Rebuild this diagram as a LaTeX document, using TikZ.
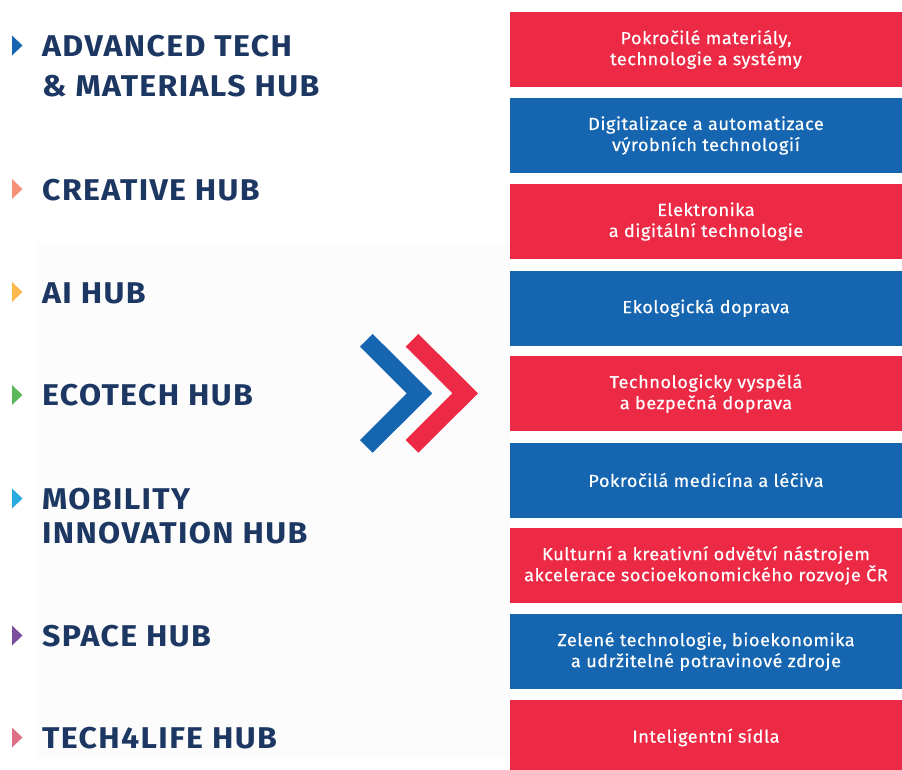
\documentclass[tikz,border=0pt]{standalone}
\usepackage{fontspec}
\setmainfont{Fira Sans}
\newfontfamily\hubfont{Fira Sans}[FakeStretch=1.07, LetterSpace=4.5]
\newfontfamily\topicfont{Fira Sans}[FakeStretch=1.04, LetterSpace=2.8, FakeBold=0.4]
\usetikzlibrary{positioning}
\definecolor{navy}{HTML}{1D3763}
\definecolor{boxred}{HTML}{EC2A45}
\definecolor{boxblue}{HTML}{1565B0}
\definecolor{faint}{HTML}{FCFCFD}
\definecolor{tblue}{HTML}{1565B0}
\definecolor{tsalmon}{HTML}{F4937A}
\definecolor{torange}{HTML}{FDB94E}
\definecolor{tgreen}{HTML}{5CB85C}
\definecolor{tcyan}{HTML}{29ABE2}
\definecolor{tpurple}{HTML}{7B4F9E}
\definecolor{tpink}{HTML}{E07088}
\tikzset{
  hub/.style={anchor=base west, inner sep=0pt, text=navy, font=\hubfont\fontsize{30}{40}\selectfont\bfseries},
  topic/.style={minimum width=392pt, minimum height=75pt, inner sep=0pt, text=white, align=center,
     font=\topicfont\fontsize{17.5}{21}\selectfont},
  redbox/.style={topic, fill=boxred},
  bluebox/.style={topic, fill=boxblue},
}
\newcommand{\hubtri}[2]{\fill[#1] (12,#2-10) -- (22.5,#2) -- (12,#2+10) -- cycle;}
\begin{document}
\begin{tikzpicture}[x=1pt,y=-1pt]
\useasboundingbox (0,0) rectangle (902,769);
\fill[white] (0,0) rectangle (902,769);
\fill[faint] (37,243) rectangle (510,758);
% hubs
\hubtri{tblue}{45.5}
\node[hub] (adv) at (42,56) {\vtop{\hbox{ADVANCED TECH}\hbox{\& MATERIALS HUB}}};
\hubtri{tsalmon}{189}
\node[hub] (cre) at (42,200) {CREATIVE HUB};
\hubtri{torange}{292}
\node[hub] (ai) at (42,303) {AI HUB};
\hubtri{tgreen}{395}
\node[hub] (eco) at (42,405.5) {ECOTECH HUB};
\hubtri{tcyan}{498.5}
\node[hub, font=\hubfont\fontsize{30}{34}\selectfont\bfseries] (mob) at (42,509) {\vtop{\hbox{MOBILITY}\hbox{INNOVATION HUB}}};
\hubtri{tpurple}{635.5}
\node[hub] (spa) at (42,646) {SPACE HUB};
\hubtri{tpink}{737.5}
\node[hub] (t4l) at (42,748) {TECH4LIFE HUB};
% chevrons
\fill[boxblue] (372.7,334) -- (432.3,393.3) -- (372.7,452.7) -- (360,440) -- (406.7,393.3) -- (360,346.7) -- cycle;
\fill[boxred] (418.4,334) -- (478,393.3) -- (418.4,452.7) -- (405.7,440) -- (452.4,393.3) -- (405.7,346.7) -- cycle;
% topic boxes
\node[redbox] (b1) at (706,49.5) {Pokročilé materiály,\\technologie a systémy};
\node[bluebox] (b2) at (706,135.5) {Digitalizace a automatizace\\výrobních technologií};
\node[redbox] (b3) at (706,221.5) {Elektronika\\a digitální technologie};
\node[bluebox] (b4) at (706,308) {Ekologická doprava};
\node[redbox] (b5) at (706,393.5) {Technologicky vyspělá\\a bezpečná doprava};
\node[bluebox] (b6) at (706,480) {Pokročilá medicína a léčiva};
\node[redbox] (b7) at (706,565.5) {Kulturní a kreativní odvětví nástrojem\\akcelerace socioekonomického rozvoje ČR};
\node[bluebox] (b8) at (706,651.5) {Zelené technologie, bioekonomika\\a udržitelné potravinové zdroje};
\node[redbox] (b9) at (706,737.5) {Inteligentní sídla};
\end{tikzpicture}
\end{document}
